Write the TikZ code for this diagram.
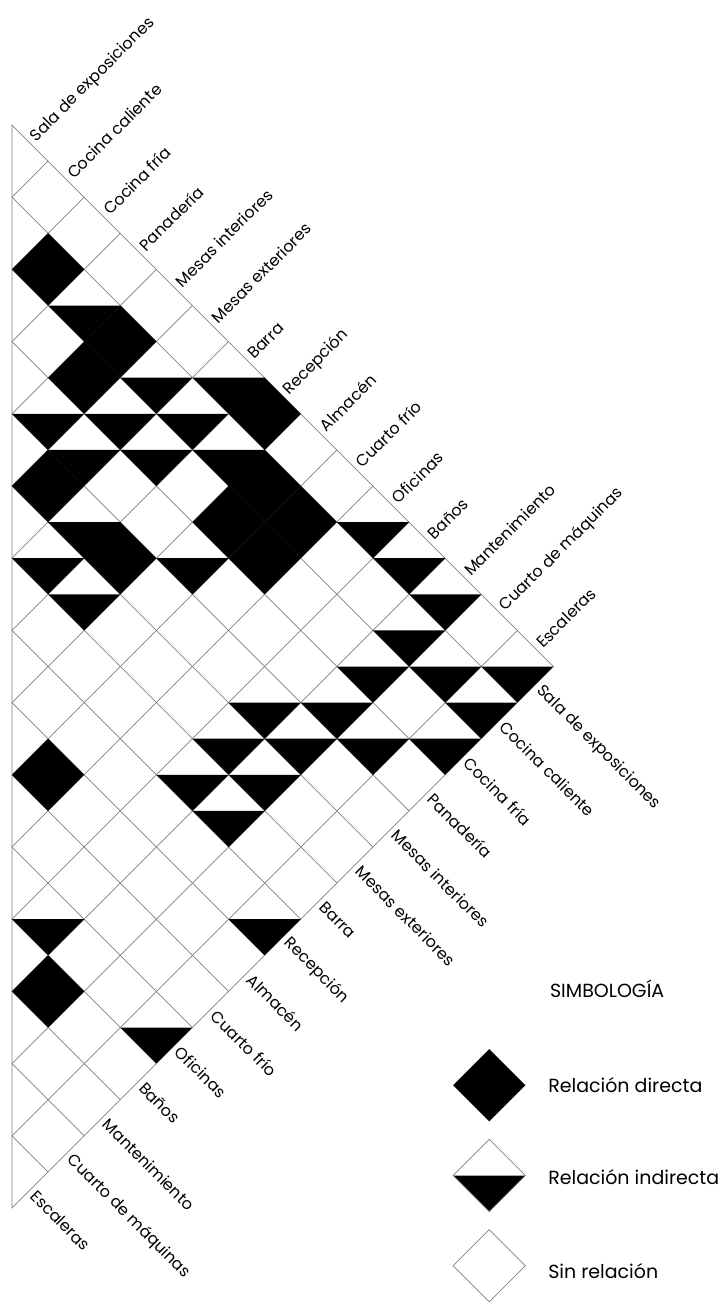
\documentclass[tikz,border=0pt]{standalone}
\usepackage{fontspec}
\setmainfont{Poppins}
\tikzset{
  gridline/.style={draw=gray,line width=0.7pt},
  roomlabel/.style={font=\fontsize{16}{19}\selectfont,anchor=west,inner sep=5pt},
  keytext/.style={font=\fontsize{19}{22}\selectfont,anchor=base west,inner sep=0pt}
}
\newcommand{\celldirect}[2]{\fill (#1-1,#2+1) -- (#1,#2) -- (#1+1,#2+1) -- (#1,#2+2) -- cycle;}
\newcommand{\cellindirect}[2]{\fill (#1-1,#2+1) -- (#1+1,#2+1) -- (#1,#2+2) -- cycle;}

\begin{document}
\begin{tikzpicture}[x=36.1pt,y=-36.1pt]
\useasboundingbox (-0.332,-3.463) rectangle (19.612,32.604);

\foreach \a in {1,...,14}{
  \draw[gridline] (0,2*\a) -- ({15-\a},{15+\a});
  \draw[gridline] (0,2*\a) -- (\a,\a);
}
\draw[gridline] (0,0) -- (15,15) -- (0,30) -- cycle;

\foreach \k/\m in {1/3,3/5,2/6,7/7,1/9,7/9,6/10,8/10,3/11,7/11,1/17,1/23}{
  \celldirect{\k}{\m}
}
\foreach \k/\m in {2/4,4/6,6/6,1/7,3/7,5/7,2/8,4/8,6/8,2/10,1/11,5/11,2/12,10/10,11/11,12/12,11/13,10/14,12/14,14/14,7/15,9/15,13/15,6/16,8/16,10/16,12/16,5/17,7/17,6/18,1/21,7/21,4/24}{
  \cellindirect{\k}{\m}
}

\foreach \room [count=\i from 0] in {Sala de exposiciones,Cocina caliente,Cocina fría,Panadería,Mesas interiores,Mesas exteriores,Barra,Recepción,Almacén,Cuarto frío,Oficinas,Baños,Mantenimiento,Cuarto de máquinas,Escaleras}{
  \node[roomlabel,rotate=45] (up\i) at (\i+0.5,\i+0.5) {\room};
  \node[roomlabel,rotate=-45] (lo\i) at (14.5-\i,15.5+\i) {\room};
}

\node[keytext] (simbologia) at (14.9,24.18) {SIMBOLOGÍA};

\fill (12.22,26.6) -- (13.22,25.6) -- (14.22,26.6) -- (13.22,27.6) -- cycle;
\fill (12.22,29.1) -- (14.22,29.1) -- (13.22,30.1) -- cycle;
\draw[gridline] (12.22,29.1) -- (13.22,28.1) -- (14.22,29.1) -- (13.22,30.1) -- cycle;
\draw[gridline] (12.22,31.6) -- (13.22,30.6) -- (14.22,31.6) -- (13.22,32.6) -- cycle;

\node[keytext] (directa) at (14.85,26.79) {Relación directa};
\node[keytext] (indirecta) at (14.85,29.36) {Relación indirecta};
\node[keytext] (sinrel) at (14.85,31.94) {Sin relación};

\end{tikzpicture}
\end{document}
